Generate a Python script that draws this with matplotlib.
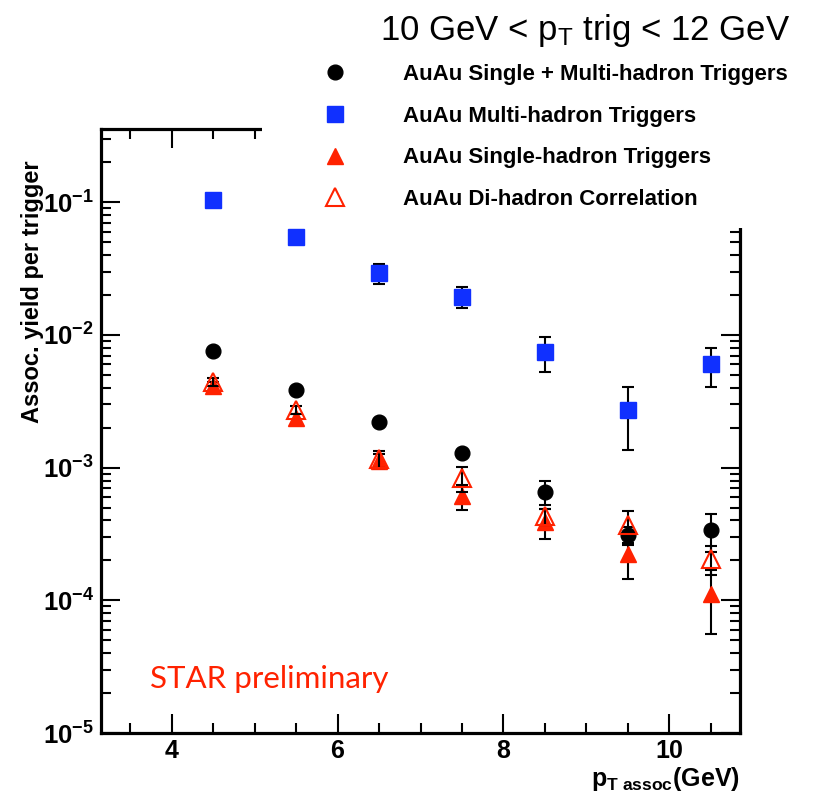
import matplotlib
matplotlib.use("Agg")
import matplotlib.pyplot as plt
from matplotlib.patches import Rectangle
from matplotlib.ticker import FixedLocator, LogLocator, NullFormatter, FuncFormatter
import numpy as np

plt.rcParams['font.family'] = ['Liberation Sans', 'DejaVu Sans']
plt.rcParams['mathtext.fontset'] = 'custom'
plt.rcParams['mathtext.rm'] = 'Liberation Sans'
plt.rcParams['mathtext.bf'] = 'Liberation Sans:bold'
plt.rcParams['mathtext.it'] = 'Liberation Sans:italic'

# ---------------- data ----------------
pt_assoc = [4.5, 5.5, 6.5, 7.5, 8.5, 9.5, 10.5]

combined = [0.0076, 0.00384, 0.00219, 0.00128, 0.00066, 0.00031, 0.00034]
combined_err = [0.0003, 0.00018, 0.00012, 0.00008, 0.00014, 0.00005, 0.00011]

multi = [0.105, 0.0546, 0.0292, 0.0195, 0.0075, 0.00273, 0.00603]
multi_err = [0.004, 0.003, 0.0048, 0.0036, 0.0022, 0.00136, 0.002]

single = [0.0041, 0.00236, 0.00113, 0.00061, 0.00039, 0.000224, 0.000112]
single_err = [0.0003, 0.0002, 0.00013, 0.00013, 0.0001, 0.00008, 0.000056]

dihadron = [0.0044, 0.00273, 0.00117, 0.00083, 0.00043, 0.00037, 0.000206]
dihadron_err = [0.0003, 0.0002, 0.00017, 0.00018, 0.00006, 0.0001, 0.00005]

fit_x = [3.35, 10.65]
fit_y = [1.0e-5, 1.0e-5]

labels = ["AuAu Single + Multi-hadron Triggers",
          "AuAu Multi-hadron Triggers",
          "AuAu Single-hadron Triggers",
          "AuAu Di-hadron Correlation"]
x_ticks = [4, 6, 8, 10]
y_ticks = [1e-5, 1e-4, 1e-3, 1e-2, 1e-1]

BLUE = '#1030ff'
RED = '#ff2200'

W, H = 838, 796
fig = plt.figure(figsize=(W / 100, H / 100), dpi=100)
ax = fig.add_axes([101 / W, 1 - 733 / H, (740 - 101) / W, (733 - 129) / H])
ax.set_yscale('log')
ax.set_xlim(3.15, 10.85)
ax.set_ylim(1e-5, 0.357)

ebkw = dict(ecolor='black', elinewidth=1.5, capsize=4.3, capthick=1.5, linestyle='none')
ax.plot(fit_x, fit_y, color=RED, lw=2.0, zorder=2, clip_on=False)
c_multi = ax.errorbar(pt_assoc, multi, yerr=multi_err, marker='s', ms=11.5,
                      mfc=BLUE, mec=BLUE, zorder=3, **ebkw)
c_comb = ax.errorbar(pt_assoc, combined, yerr=combined_err, marker='o', ms=10.6,
                     mfc='black', mec='black', zorder=3, **ebkw)
c_single = ax.errorbar(pt_assoc, single, yerr=single_err, marker='^', ms=11.5,
                       mfc=RED, mec=RED, zorder=4, **ebkw)
c_di = ax.errorbar(pt_assoc, dihadron, yerr=dihadron_err, marker='^', ms=12.5,
                   mfc='none', mec=RED, mew=1.5, zorder=5, **ebkw)

for s in ax.spines.values():
    s.set_linewidth(2.3)

ax.xaxis.set_major_locator(FixedLocator(x_ticks))
ax.xaxis.set_minor_locator(FixedLocator(np.arange(3.5, 10.9, 0.5)))
ax.yaxis.set_major_locator(FixedLocator(y_ticks))
ax.yaxis.set_minor_locator(LogLocator(base=10, subs=range(2, 10), numticks=50))
ax.yaxis.set_minor_formatter(NullFormatter())

def yfmt(v, pos):
    e = int(round(np.log10(v)))
    return r'$\mathbf{10^{%d}}$' % e

ax.yaxis.set_major_formatter(FuncFormatter(yfmt))
ax.tick_params(which='both', direction='in', top=True, right=True, width=1.5)
ax.tick_params(which='major', length=13.5, pad=5)
ax.tick_params(which='minor', length=7)
ax.tick_params(axis='x', labelsize=18, pad=4)
ax.tick_params(axis='y', labelsize=18.5)
for lab in ax.get_xticklabels():
    lab.set_fontweight('bold')

# white box covering the top-right area (legend area)
fig.patches.append(Rectangle((262 / W, 1 - 228 / H), (W - 262) / W, 228 / H,
                             transform=fig.transFigure, facecolor='white',
                             edgecolor='none', zorder=3))

fig.text(380 / W, 1 - 40 / H, r'10 GeV < p$_{\mathrm{T}}$ trig < 12 GeV',
         fontsize=25, ha='left', va='baseline', zorder=6)

leg = fig.legend([c_comb.lines[0], c_multi.lines[0], c_single.lines[0], c_di.lines[0]],
                 labels, loc='upper left', bbox_to_anchor=(324 / W, 1 - 64 / H),
                 bbox_transform=fig.transFigure, frameon=False, borderpad=0,
                 borderaxespad=0, handlelength=1.0, handletextpad=2.56,
                 labelspacing=0.93, prop={'weight': 'bold', 'size': 16})
leg.set_zorder(6)

fig.text(33 / W, 1 - 160 / H, 'Assoc. yield per trigger', rotation=90,
         fontsize=17, fontweight='bold', ha='center', va='top')

fig.text(740 / W, 1 - 786 / H, r'$\mathbf{p}_{\mathbf{T\ assoc}}$(GeV)',
         fontsize=18, fontweight='bold', ha='right', va='baseline')

ax.text(150 / W, 1 - 688 / H, 'STAR preliminary', transform=fig.transFigure,
        color=RED, fontsize=22.5, family='Lato', ha='left', va='baseline')

fig.savefig('out.png', dpi=100)
